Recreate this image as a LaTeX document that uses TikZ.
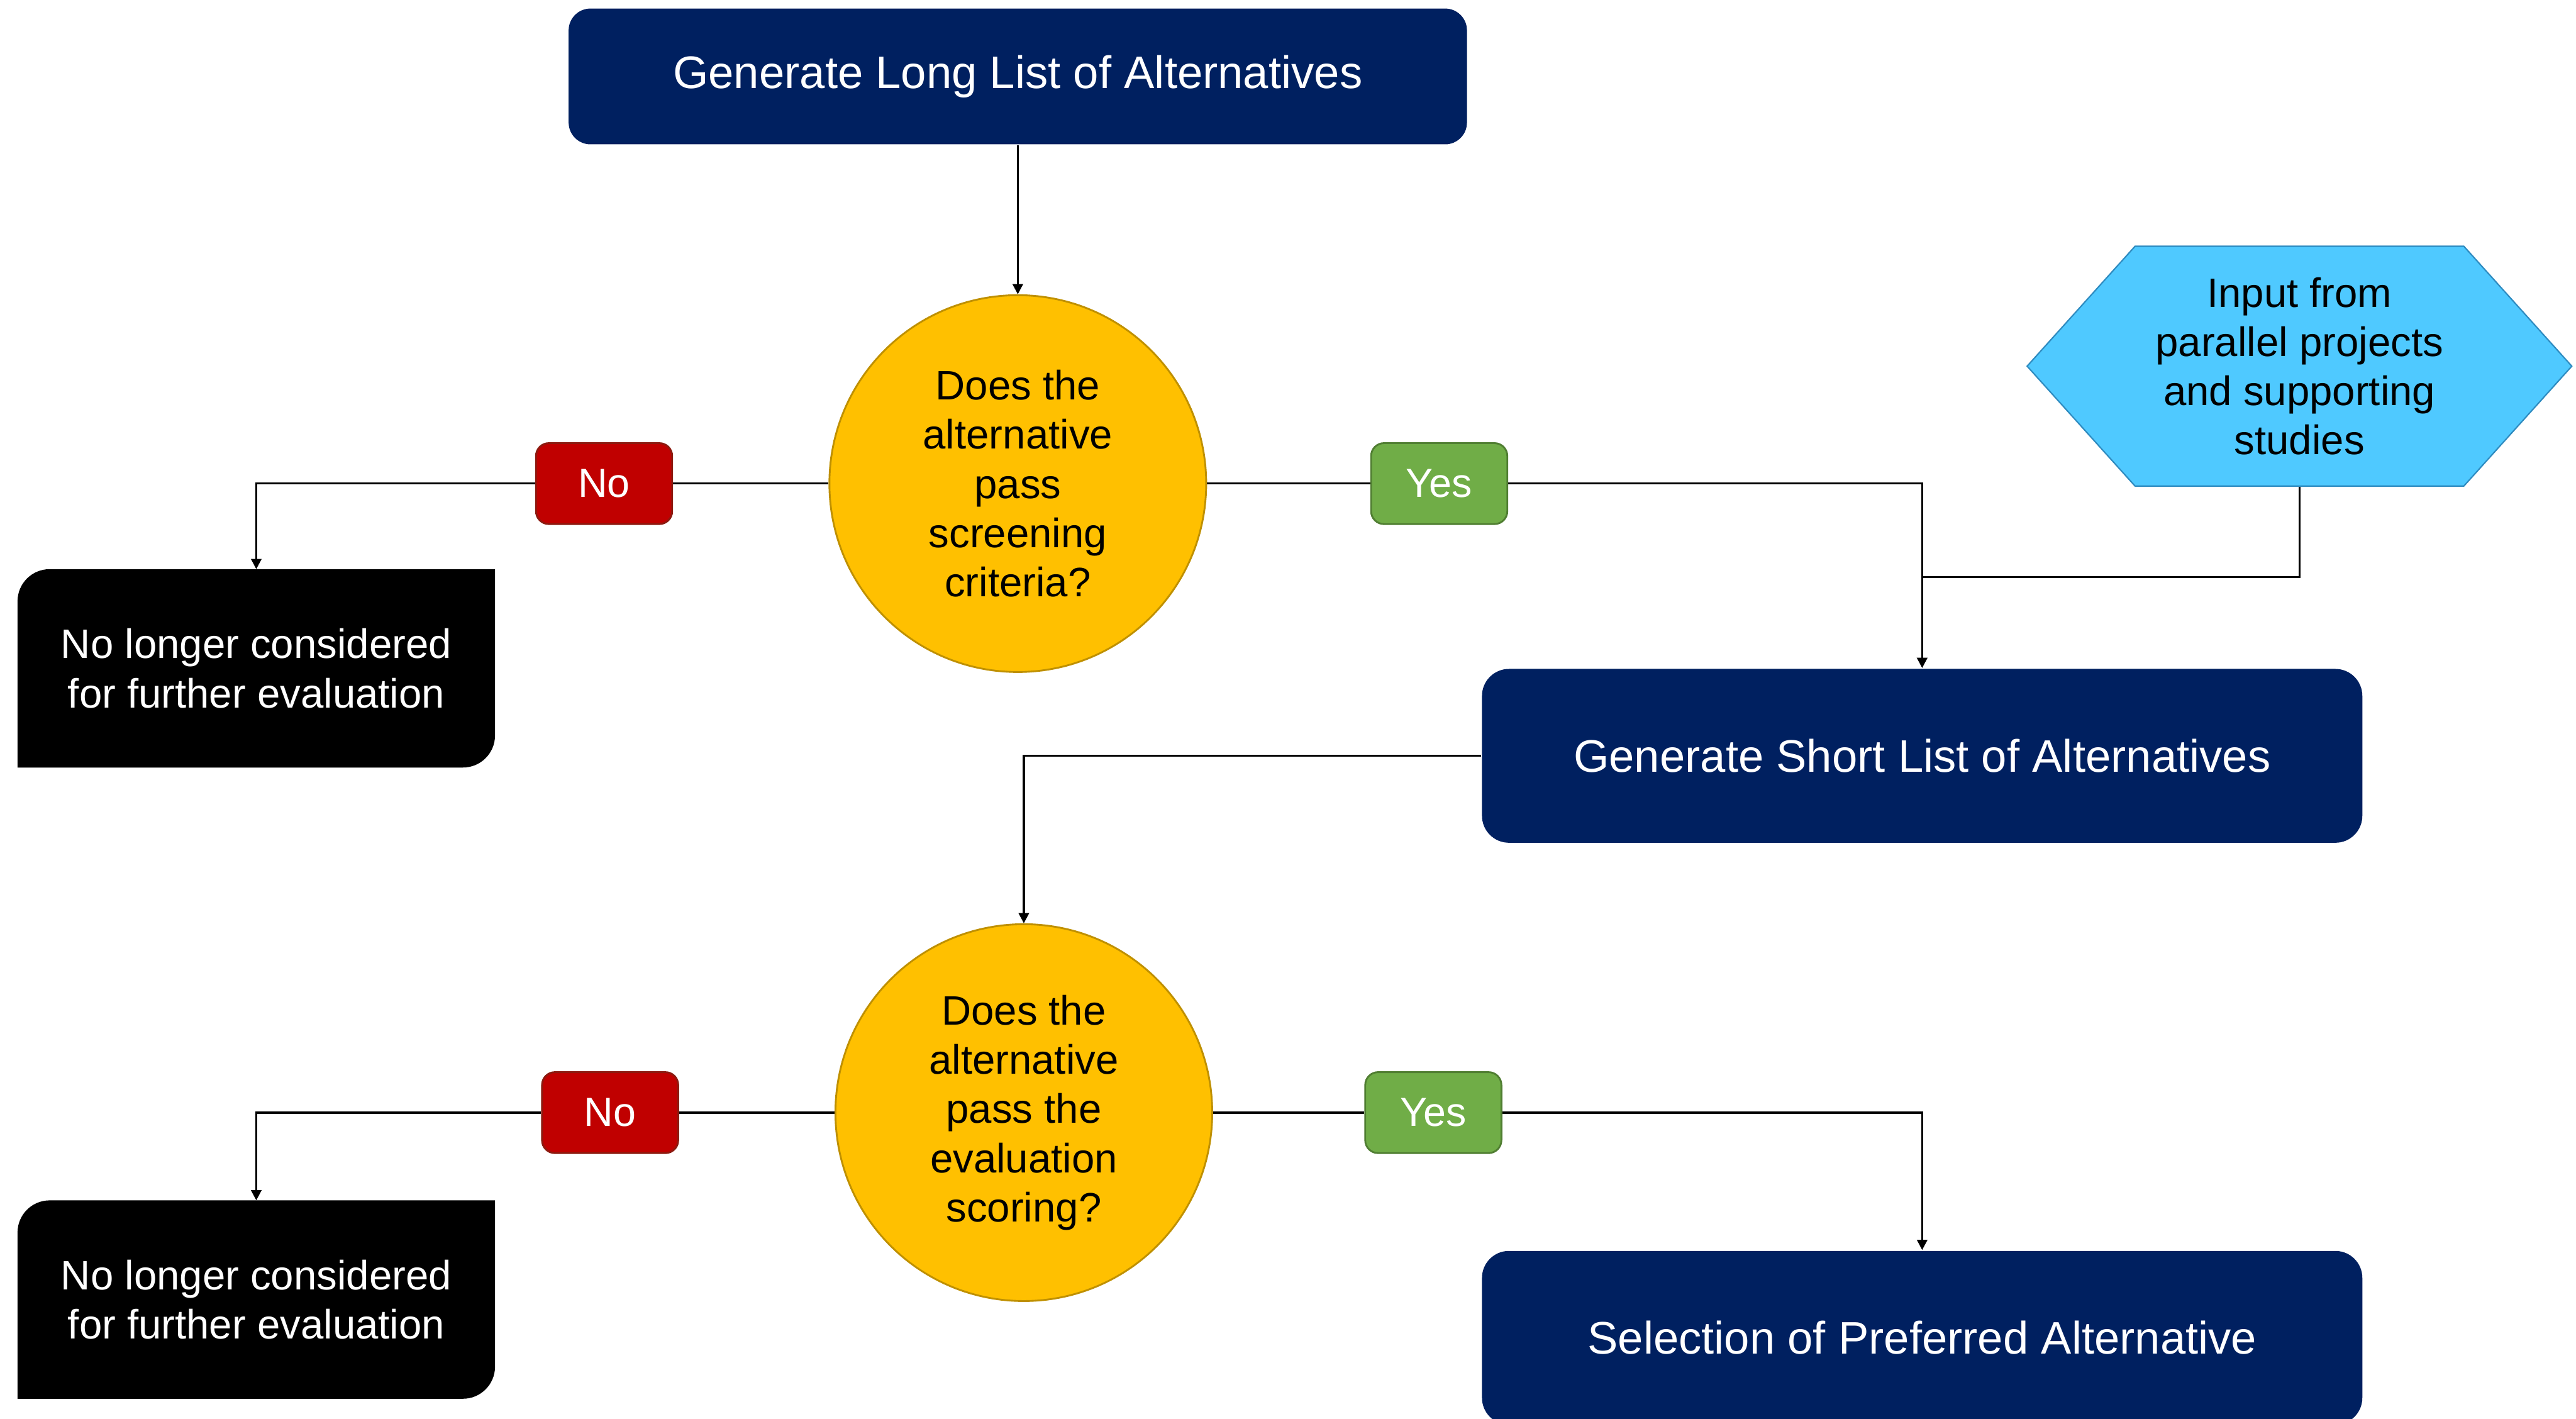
\documentclass[tikz,border=0pt]{standalone}
\usepackage{fontspec}
\setmainfont{Liberation Sans}
\usetikzlibrary{arrows.meta, positioning, shapes.symbols, backgrounds}
\definecolor{navy}{HTML}{002060}
\definecolor{gold}{HTML}{FFC000}
\definecolor{goldline}{HTML}{BF9000}
\definecolor{nored}{HTML}{C00000}
\definecolor{noline}{HTML}{8C1A10}
\definecolor{yesgreen}{HTML}{70AD47}
\definecolor{yesline}{HTML}{507E32}
\definecolor{sky}{HTML}{4FC9FF}
\definecolor{skyline}{HTML}{2E8BC0}
\tikzset{
  task/.style={fill=navy, text=white, rounded corners=0.21cm, minimum width=6.853cm, minimum height=1.353cm, font=\fontsize{10.1}{12.1}\selectfont},
  check/.style={circle, draw=goldline, fill=gold, line width=0.4pt, minimum size=2.933cm, inner sep=0pt, align=center},
  tag/.style={rounded corners=0.1cm, minimum width=1.06cm, minimum height=0.63cm, text=white, line width=0.4pt, font=\fontsize{9}{10.8}\selectfont},
  nolabel/.style={tag, fill=nored, draw=noline},
  yeslabel/.style={tag, fill=yesgreen, draw=yesline},
  drop/.style={text=white, minimum width=3.703cm, minimum height=1.53cm, align=center},
  source/.style={signal, signal to=west and east, signal pointer angle=96, fill=sky, draw=skyline, line width=0.3pt, minimum width=4.24cm, minimum height=1.867cm, inner sep=0pt, align=center},
  link/.style={line width=0.45pt},
  flow/.style={link, -{Triangle[length=0.8mm, width=0.8mm]}},
}

\begin{document}
\begin{tikzpicture}[font=\fontsize{9.1}{10.9}\selectfont]
  \useasboundingbox (0,0) rectangle (20.053,-11.043);

  % first screening step
  \node[task, minimum width=6.993cm, minimum height=1.057cm, rounded corners=0.17cm] (long) at (7.923,-0.595) {Generate Long List of Alternatives};
  \node[check, below=1.16cm of long] (screen) {Does the\\alternative\\pass\\screening\\criteria?};
  \node[nolabel, left=1.21cm of screen] (no1) {No};
  \node[yeslabel, right=1.27cm of screen] (yes1) {Yes};
  \node[drop] (drop1) at (1.995,-5.202) {No longer considered\\for further evaluation};

  % outside input and short list
  \node[source] (input) at (17.9,-2.85) {Input from\\parallel projects\\and supporting\\studies};
  \node[task] (short) at (14.963,-5.883) {Generate Short List of Alternatives};
  \coordinate (merge) at (14.963,-4.493);

  % second evaluation step
  \node[check] (score) at (7.97,-8.66) {Does the\\alternative\\pass the\\evaluation\\scoring?};
  \node[nolabel, left=1.21cm of score] (no2) {No};
  \node[yeslabel, right=1.177cm of score] (yes2) {Yes};
  \node[drop] (drop2) at (1.995,-10.115) {No longer considered\\for further evaluation};
  \node[task] (select) at (14.963,-10.413) {Selection of Preferred Alternative};

  \begin{scope}[on background layer]
    \foreach \d in {drop1, drop2}
      \fill[black] (\d.south west) -- ([yshift=-0.25cm]\d.north west) arc[start angle=180, end angle=90, radius=0.25cm]
        -- (\d.north east) -- ([yshift=0.25cm]\d.south east) arc[start angle=0, end angle=-90, radius=0.25cm] -- cycle;
  \end{scope}

  \draw[flow] (long) -- (screen);
  \draw[link] (screen) -- (no1);
  \draw[flow] (no1) -| (drop1);
  \draw[link] (screen) -- (yes1);
  \draw[flow] (yes1) -| (short);
  \draw[link] (input) |- (merge);
  \draw[flow] (short) -| (score);
  \draw[link] (score) -- (no2);
  \draw[flow] (no2) -| (drop2);
  \draw[link] (score) -- (yes2);
  \draw[flow] (yes2) -| (select);
\end{tikzpicture}
\end{document}
